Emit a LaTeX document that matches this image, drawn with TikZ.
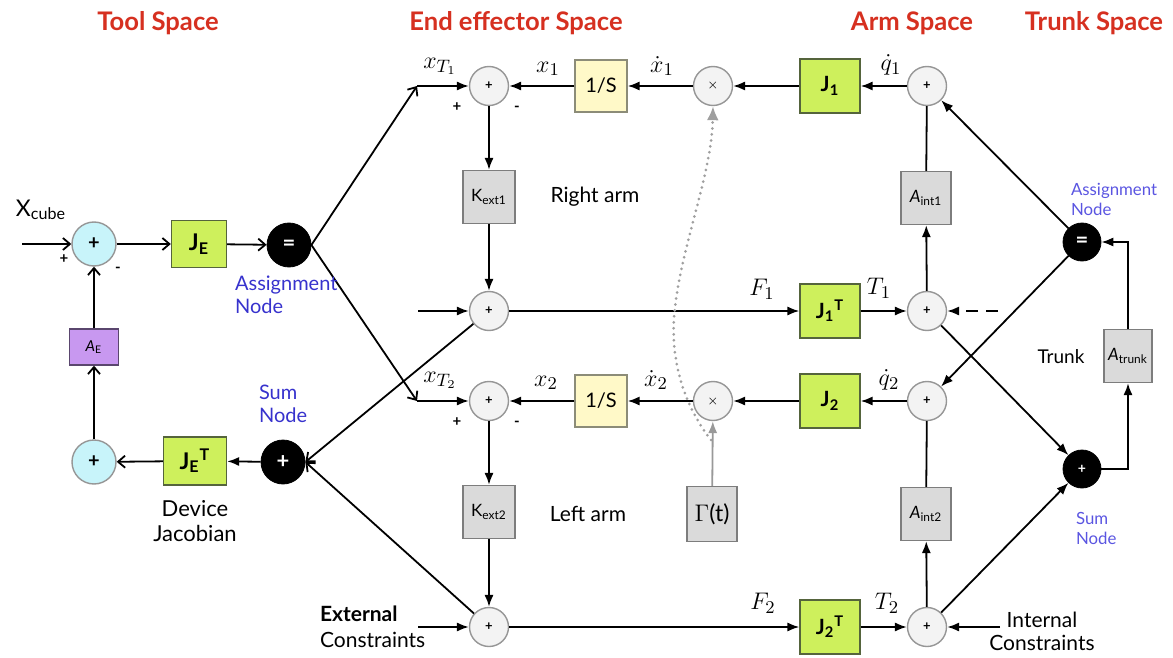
\documentclass[tikz,border=0pt]{standalone}
\usepackage{fontspec}
\setsansfont{Lato}
\usetikzlibrary{arrows.meta}
\definecolor{ttlred}{RGB}{214,48,32}
\definecolor{nblue}{RGB}{55,50,205}
\definecolor{nblue2}{RGB}{90,85,225}
\definecolor{jgreen}{RGB}{206,240,92}
\definecolor{jedge}{RGB}{85,100,60}
\definecolor{yfill}{RGB}{255,249,200}
\definecolor{yedge}{RGB}{140,140,120}
\definecolor{gfill}{RGB}{218,218,218}
\definecolor{gedge}{RGB}{125,125,125}
\definecolor{cfill}{RGB}{200,244,250}
\definecolor{pfill}{RGB}{200,152,240}
\definecolor{pedge}{RGB}{90,70,110}
\definecolor{sfill}{RGB}{243,243,243}
\definecolor{sedge}{RGB}{150,150,150}
\begin{document}
\begin{tikzpicture}[x=0.5pt,y=-0.5pt,font=\sffamily,
  ln/.style={line width=0.9pt},
  arr/.style={ln,-{Latex[length=6pt,width=4.6pt]}},
  oarr/.style={ln,-{Straight Barb[length=3.5pt,width=6pt]}},
  sumc/.style={circle,draw=sedge,fill=sfill,line width=0.7pt,minimum size=19.5pt,inner sep=0pt,font=\sffamily\bfseries\fontsize{6.5}{7}\selectfont},
  blkc/.style={circle,fill=black,draw=black,minimum size=#1,inner sep=0pt,text=white,font=\sffamily\bfseries\fontsize{11}{12}\selectfont},
  cyc/.style={circle,draw=sedge,fill=cfill,line width=0.7pt,minimum size=22pt,inner sep=0pt,font=\sffamily\bfseries\fontsize{10}{11}\selectfont},
  gbox/.style={draw=jedge,fill=jgreen,line width=0.7pt,minimum width=30pt,minimum height=27pt,inner sep=0pt,font=\sffamily\bfseries\fontsize{10.5}{12}\selectfont},
  ybox/.style={draw=yedge,fill=yfill,line width=0.7pt,minimum width=26pt,minimum height=26pt,inner sep=0pt,font=\sffamily\fontsize{10}{11}\selectfont},
  grbox/.style={draw=gedge,fill=gfill,line width=0.7pt,minimum width=26pt,minimum height=26.5pt,inner sep=0pt,font=\sffamily\fontsize{8.5}{9}\selectfont},
  ttl/.style={text=ttlred,font=\sffamily\bfseries\fontsize{12.8}{14}\selectfont},
  lbl/.style={font=\sffamily\fontsize{10.5}{12}\selectfont},
  blu/.style={text=nblue,align=left,font=\sffamily\fontsize{10}{11.5}\selectfont},
  blu2/.style={text=nblue2,align=left,font=\sffamily\fontsize{8.4}{10}\selectfont},
  mth/.style={font=\fontsize{12.5}{13}\selectfont},
  sgn/.style={font=\sffamily\bfseries\fontsize{7.5}{8}\selectfont}
]
\useasboundingbox (0,0) rectangle (1173,658);

% titles
\node[ttl] (tt1) at (158,23) {Tool Space};
\node[ttl] (tt2) at (516,23) {End effector Space};
\node[ttl] (tt3) at (912,23) {Arm Space};
\node[ttl] (tt4) at (1094,23) {Trunk Space};

% ---------- end effector / arm rows ----------
\node[sumc] (e1) at (489,86) {+};
\node[ybox] (i1) at (601,86) {1/S};
\node[sumc] (m1) at (713,86) {$\times$};
\node[gbox] (J1) at (830,86) {J\textsubscript{1}};
\node[sumc] (s1) at (927,86) {+};
\node[grbox] (K1) at (489,197) {K\textsubscript{ext1}};
\node[grbox,minimum width=25pt] (A1) at (926,198) {\textit{A}\textsubscript{int1}};
\node[sumc] (f1) at (489,311) {+};
\node[gbox] (J1T) at (830,311) {J\textsubscript{1}\textsuperscript{T}};
\node[sumc] (t1) at (927,311) {+};

\node[sumc] (e2) at (489,401) {+};
\node[ybox] (i2) at (601,401) {1/S};
\node[sumc] (m2) at (713,401) {$\times$};
\node[gbox] (J2) at (830,401) {J\textsubscript{2}};
\node[sumc] (s2) at (927,401) {+};
\node[grbox] (K2) at (489,512) {K\textsubscript{ext2}};
\node[grbox,minimum width=25pt,minimum height=27.5pt,font=\sffamily\fontsize{11.5}{12}\selectfont] (G) at (712,514) {$\Gamma$(t)};
\node[grbox,minimum width=25pt] (A2) at (926,514) {\textit{A}\textsubscript{int2}};
\node[sumc] (f2) at (489,627) {+};
\node[gbox] (J2T) at (830,627) {J\textsubscript{2}\textsuperscript{T}};
\node[sumc] (t2) at (927,627) {+};

% trunk
\node[blkc=19pt] (a2) at (1082,242) {=};
\node[blkc=19pt,font=\sffamily\bfseries\fontsize{7}{8}\selectfont] (b2) at (1082,469) {+};
\node[grbox,minimum width=24pt] (At) at (1128,356) {\textit{A}\textsubscript{trunk}};

% tool space
\node[cyc] (c1) at (94,244) {+};
\node[gbox,minimum width=27.5pt,minimum height=23.5pt,font=\sffamily\bfseries\fontsize{11.5}{12}\selectfont] (JE) at (199,244) {J\textsubscript{E}};
\node[blkc=22pt] (a1) at (289,245) {=};
\node[draw=pedge,fill=pfill,line width=0.7pt,minimum width=24.5pt,minimum height=18pt,inner sep=0pt,font=\sffamily\fontsize{7.5}{8}\selectfont] (AE) at (94,347) {\textit{A}\textsubscript{E}};
\node[cyc] (c2) at (94,462) {+};
\node[gbox,minimum width=31.5pt,minimum height=24pt,font=\sffamily\bfseries\fontsize{11.5}{12}\selectfont] (JET) at (195,461) {J\textsubscript{E}\textsuperscript{T}};
\node[blkc=22pt] (b1) at (283,462) {+};

% free ends
\coordinate (xin) at (22,244);
\coordinate (xt1) at (417,86);
\coordinate (xt2) at (417,401);
\coordinate (fin1) at (418,311);
\coordinate (fin2) at (418,627);
\coordinate (d1) at (998,311);
\coordinate (iin) at (1000,627);
\coordinate (dst) at (711,440);

% ---------- connectors ----------
\draw[arr] (s1) -- (J1);
\draw[arr] (J1) -- (m1);
\draw[arr] (m1) -- (i1);
\draw[arr] (i1) -- (e1);
\draw[arr] (xt1) -- (e1);
\draw[arr] (e1) -- (K1);
\draw[arr] (K1) -- (f1);
\draw[arr] (fin1) -- (f1);
\draw[arr] (f1) -- (J1T);
\draw[arr] (J1T) -- (t1);
\draw[arr] (t1) -- (A1);
\draw[ln] (A1) -- (s1);
\draw[arr,dash pattern=on 6pt off 4pt] (d1) -- (t1);

\draw[arr] (s2) -- (J2);
\draw[arr] (J2) -- (m2);
\draw[arr] (m2) -- (i2);
\draw[arr] (i2) -- (e2);
\draw[arr] (xt2) -- (e2);
\draw[arr] (e2) -- (K2);
\draw[arr] (K2) -- (f2);
\draw[arr] (fin2) -- (f2);
\draw[arr] (f2) -- (J2T);
\draw[arr] (J2T) -- (t2);
\draw[arr] (t2) -- (A2);
\draw[ln] (A2) -- (s2);
\draw[arr] (iin) -- (t2);

\draw[arr] (a2) -- (s1);
\draw[arr] (a2) -- (s2);
\draw[arr] (t1) -- (b2);
\draw[arr] (t2) -- (b2);
\draw[arr] (b2.east) -| (At.south);
\draw[arr] (At.north) |- (a2.east);

\draw[arr,draw=gray!80,-{Latex[length=6pt,width=4.6pt,fill=gray!80]}] (G) -- (m2);
\draw[gray!75,line width=1.5pt,line cap=round,dash pattern=on 0pt off 3pt,-{Latex[length=7pt,width=6pt,fill=gray!75]}]
  (dst) .. controls (680,400) and (668,350) .. (676,300) .. controls (684,240) and (712,170) .. (m1.south);

\draw[oarr] (xin) -- (c1);
\draw[oarr] (c1) -- (JE);
\draw[oarr] (JE) -- (a1);
\draw[oarr] (a1.east) -- (xt1);
\draw[oarr] (a1.east) -- (xt2);
\draw[oarr] (f1) -- (b1.east);
\draw[oarr] (f2) -- (b1.east);
\draw[arr] (b1) -- (JET);
\draw[oarr] (JET) -- (c2);
\draw[oarr] (c2) -- (AE);
\draw[oarr] (AE) -- (c1);

% ---------- labels ----------
\node[mth] (lxt1) at (440,66) {$x_{T_1}$};
\node[mth] (lx1) at (548,69) {$x_1$};
\node[mth] (ldx1) at (662,66) {$\dot{x}_1$};
\node[mth] (ldq1) at (891,65) {$\dot{q}_1$};
\node[mth] (lF1) at (762,289) {$F_1$};
\node[mth] (lT1) at (879,288) {$T_1$};
\node[mth] (lxt2) at (440,380) {$x_{T_2}$};
\node[mth] (lx2) at (546,383) {$x_2$};
\node[mth] (ldx2) at (656,380) {$\dot{x}_2$};
\node[mth] (ldq2) at (889,380) {$\dot{q}_2$};
\node[mth] (lF2) at (763,603) {$F_2$};
\node[mth] (lT2) at (887,603) {$T_2$};

\node[sgn] (p1) at (457,107) {+};
\node[sgn] (n1) at (517,109) {-};
\node[sgn] (p2) at (457,422) {+};
\node[sgn] (n2) at (517,424) {-};
\node[sgn] (p0) at (64,259) {+};
\node[sgn] (n0) at (118,270) {-};

\node[font=\sffamily\fontsize{11.5}{12}\selectfont] (xc) at (41,210) {X\textsubscript{cube}};
\node[lbl] (ra) at (595,197) {Right arm};
\node[lbl] (la) at (588,514) {Left arm};
\node[lbl,font=\sffamily\fontsize{9.5}{11}\selectfont] (tr) at (1061,357) {Trunk};
\node[lbl,align=center,font=\sffamily\fontsize{11}{12.5}\selectfont] (dj) at (195,521) {Device\\Jacobian};
\node[blu,anchor=west] (an1) at (228,295) {Assignment\\Node};
\node[blu,anchor=west] (sn1) at (252,404) {Sum\\Node};
\node[blu2,anchor=west] (an2) at (1064,199) {Assignment\\Node};
\node[blu2,anchor=west] (sn2) at (1069,528) {Sum\\Node};
\node[anchor=west,align=left,font=\sffamily\fontsize{10.5}{13}\selectfont] (ec) at (313,627) {\textbf{External}\\Constraints};
\node[align=center,font=\sffamily\fontsize{10.5}{11.5}\selectfont] (ic) at (1042,631) {Internal\\Constraints};
\end{tikzpicture}
\end{document}
